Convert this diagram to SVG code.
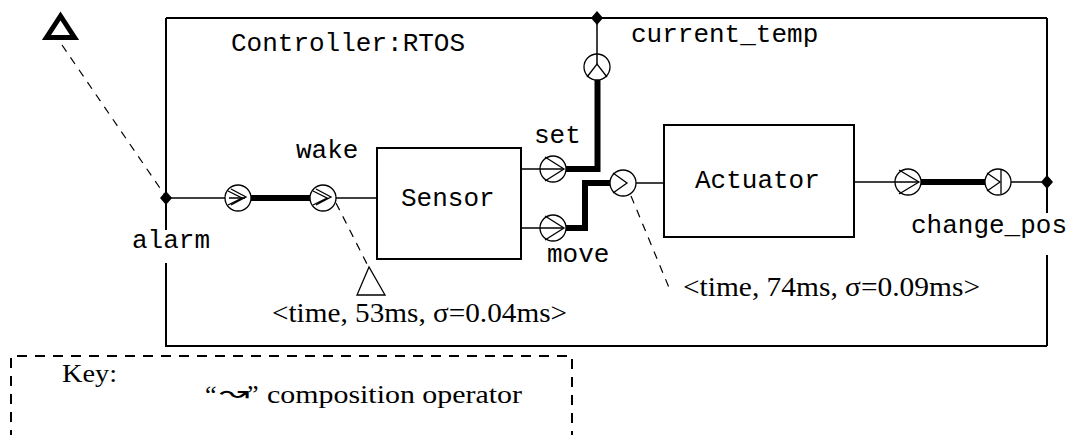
<svg xmlns="http://www.w3.org/2000/svg" width="1075" height="435" viewBox="0 0 1075 435">
<style>
.box{fill:none;stroke:#000;stroke-width:2}
.thin{fill:none;stroke:#000;stroke-width:1.5}
.thick{fill:none;stroke:#000;stroke-width:6;stroke-linejoin:miter}
.dash{fill:none;stroke:#000;stroke-width:1.2;stroke-dasharray:8 7}
.kdash{fill:none;stroke:#000;stroke-width:2;stroke-dasharray:10 8}
.port{fill:#fff;stroke:#000;stroke-width:1.3}
.chev{fill:none;stroke:#000;stroke-width:1.3}
.dia{fill:#000}
.mono{font-family:"Liberation Mono","DejaVu Sans Mono",monospace;font-size:26px;fill:#000}
.serif{font-family:"Liberation Serif","DejaVu Serif","DejaVu Sans",serif;font-size:28px;fill:#000}
.key{font-family:"Liberation Serif","DejaVu Serif","DejaVu Sans",serif;font-size:26px;fill:#000}
.sym{font-family:"DejaVu Sans","Noto Sans",sans-serif;font-size:24px;fill:#000}
</style>
<rect width="1075" height="435" fill="#fff"/>

<g id="controller">
  <path class="box" d="M166,18 H1047 M166,18 V230 M166,263 V346 H1047 M1047,18 V213 M1047,255 V346"/>
  <text class="mono" x="231" y="51">Controller:RTOS</text>
</g>

<g id="sensor">
  <rect class="box" x="377" y="148" width="144" height="111"/>
  <text class="mono" x="401" y="206">Sensor</text>
</g>

<g id="actuator">
  <rect class="box" x="664" y="125" width="190" height="112"/>
  <text class="mono" x="695" y="188">Actuator</text>
</g>

<g id="connectors">
  <path class="thin" d="M166,198 H245"/>
  <path class="thick" d="M251,198 H310"/>
  <path class="thin" d="M330,198 H377"/>
  <path class="thin" d="M521,169 H563"/>
  <path class="thick" d="M566,169 H597.5 V80"/>
  <path class="thin" d="M597,18 V64"/>
  <path class="thin" d="M521,228 H563"/>
  <path class="thick" d="M566,228 H585 V183 H611"/>
  <path class="thin" d="M626,183 H664"/>
  <path class="thin" d="M854,182 H918"/>
  <path class="thick" d="M921,182 H987"/>
  <path class="thin" d="M1011,182 H1047"/>
</g>

<g id="alarm">
  <path d="M60.5,16 L46.5,37.5 L74.5,37.5 Z" fill="none" stroke="#000" stroke-width="5" stroke-linejoin="miter"/>
  <path class="dash" d="M62,45 L164,194"/>
  <path class="dia" d="M166,191 L172,198 L166,205 L160,198 Z"/>
  <text class="mono" x="132" y="248">alarm</text>
</g>

<g id="port-alarm-in">
  <circle class="port" cx="238" cy="198" r="13"/>
  <path class="thin" d="M229,198 H245"/>
  <path class="chev" d="M231,189 L246,197 L231,205 M228,191 L242,198 L228,205"/>
</g>

<g id="port-wake">
  <circle class="port" cx="323" cy="198" r="13"/>
  <path class="chev" d="M316,189 L331,197 L316,205 M313,191 L327,198 L313,205"/>
  <text class="mono" x="296" y="158">wake</text>
</g>

<g id="port-set">
  <circle class="port" cx="553" cy="169" r="13"/>
  <path class="thin" d="M540,169 H563"/>
  <path class="chev" d="M545,157 L564,169 L545,181"/>
  <text class="mono" x="534" y="143">set</text>
</g>

<g id="port-current-temp">
  <circle class="port" cx="597" cy="67" r="13"/>
  <path class="thin" d="M597,54 V64"/>
  <path class="chev" d="M587,77 L597,64 L607,77"/>
  <path class="dia" d="M597,11 L603,18 L597,25 L591,18 Z"/>
  <text class="mono" x="631" y="42">current_temp</text>
</g>

<g id="port-move">
  <circle class="port" cx="553" cy="228" r="13"/>
  <path class="thin" d="M540,228 H563"/>
  <path class="chev" d="M545,216 L564,228 L545,240"/>
  <text class="mono" x="547" y="262">move</text>
</g>

<g id="port-actuator-in">
  <circle class="port" cx="623" cy="183" r="13"/>
  <path class="chev" d="M613,173 L627,183 L613,193"/>
</g>

<g id="port-actuator-out">
  <circle class="port" cx="908" cy="182" r="13"/>
  <path class="thin" d="M895,182 H918"/>
  <path class="chev" d="M899,170 L919,182 L899,194"/>
</g>

<g id="port-change-pos">
  <circle class="port" cx="998" cy="182" r="13"/>
  <path class="chev" d="M987,173 L1000,182 L987,191"/>
  <path class="chev" d="M1001,170 V194"/>
  <path class="dia" d="M1047,175 L1053,182 L1047,189 L1041,182 Z"/>
  <text class="mono" x="911" y="233">change_pos</text>
</g>

<g id="timing-sensor">
  <path class="dash" d="M336,203 L367,264"/>
  <path d="M369,267 L357,295 L385,295 Z" fill="none" stroke="#000" stroke-width="1.3"/>
  <text class="serif" x="272" y="322" textLength="295" lengthAdjust="spacingAndGlyphs">&lt;time, 53ms, σ=0.04ms&gt;</text>
</g>

<g id="timing-actuator">
  <path class="dash" d="M631,196 L670,290"/>
  <text class="serif" x="683" y="296" textLength="297" lengthAdjust="spacingAndGlyphs">&lt;time, 74ms, σ=0.09ms&gt;</text>
</g>

<g id="key">
  <path class="kdash" d="M11,440 V356 H572 V440"/>
  <text class="key" x="62" y="382" textLength="55" lengthAdjust="spacingAndGlyphs">Key:</text>
  <text class="key" x="205" y="403">“</text>
  <text class="sym" x="219" y="401" textLength="30" lengthAdjust="spacingAndGlyphs">↝</text>
  <text class="key" x="247" y="403">”</text>
  <text class="key" x="267" y="403" textLength="255" lengthAdjust="spacingAndGlyphs">composition operator</text>
</g>
</svg>
